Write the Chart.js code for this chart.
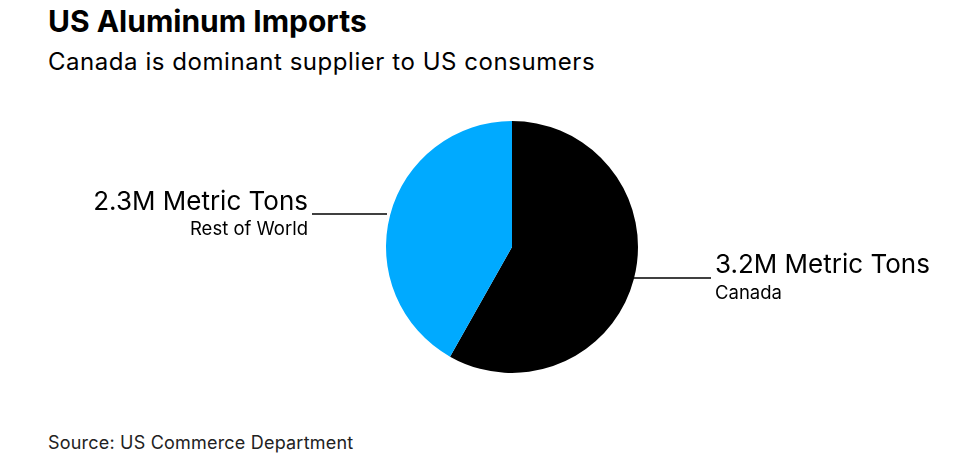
<!DOCTYPE html>
<html><head><meta charset="utf-8">
<script src="https://cdn.jsdelivr.net/npm/chart.js@4"></script>
<style>
body{margin:0;background:#fff;font-family:Inter,"Liberation Sans",Arial,sans-serif;}
#wrap{position:relative;width:959px;height:461px;}
.t{position:absolute;left:48px;color:#000;white-space:nowrap}
</style></head><body>
<div id="wrap">
<div class="t" style="top:3px;font-size:30px;font-weight:bold;letter-spacing:0px">US Aluminum Imports</div>
<div class="t" style="top:47px;font-size:24px;letter-spacing:0.55px">Canada is dominant supplier to US consumers</div>
<div class="t" style="top:432px;font-size:18px;letter-spacing:0.2px;color:#222">Source: US Commerce Department</div>
<canvas id="c" width="959" height="461" style="position:absolute;left:0;top:0"></canvas>
</div>
<script>
const categories=["Canada","Rest of World"];
const values=[3.2,2.3];
const valueLabels=["3.2M Metric Tons","2.3M Metric Tons"];
const colors=["#000000","#00AAFF"];
const labelPlugin={id:'lbl',afterDraw(ch){
 const ctx=ch.ctx;const a=ch.getDatasetMeta(0).data[0];const cx=a.x,cy=a.y,r=a.outerRadius;
 ctx.save();ctx.strokeStyle='#000';ctx.lineWidth=1.5;ctx.fillStyle='#000';
 let y=cy+31;ctx.beginPath();ctx.moveTo(cx+r-4,y);ctx.lineTo(cx+r+73,y);ctx.stroke();
 ctx.textAlign='left';ctx.textBaseline='alphabetic';
 ctx.font='26px Inter,"Liberation Sans",Arial';ctx.fillText(valueLabels[0],cx+r+77,y-5);
 ctx.font='18.5px Inter,"Liberation Sans",Arial';ctx.fillText(categories[0],cx+r+77,y+21);
 y=cy-33;ctx.beginPath();ctx.moveTo(cx-r+1,y);ctx.lineTo(cx-r-74,y);ctx.stroke();
 ctx.textAlign='right';
 ctx.font='26px Inter,"Liberation Sans",Arial';ctx.fillText(valueLabels[1],cx-r-78,y-4);
 ctx.font='18.5px Inter,"Liberation Sans",Arial';ctx.fillText(categories[1],cx-r-78,y+21);
 ctx.restore();}};
new Chart(document.getElementById('c'),{type:'pie',
 data:{labels:categories,datasets:[{data:values,backgroundColor:colors,borderWidth:0}]},
 options:{responsive:false,animation:false,layout:{padding:{top:121,bottom:88,left:386,right:321}},
  plugins:{legend:{display:false},tooltip:{enabled:false}}},
 plugins:[labelPlugin]});
</script></body></html>
